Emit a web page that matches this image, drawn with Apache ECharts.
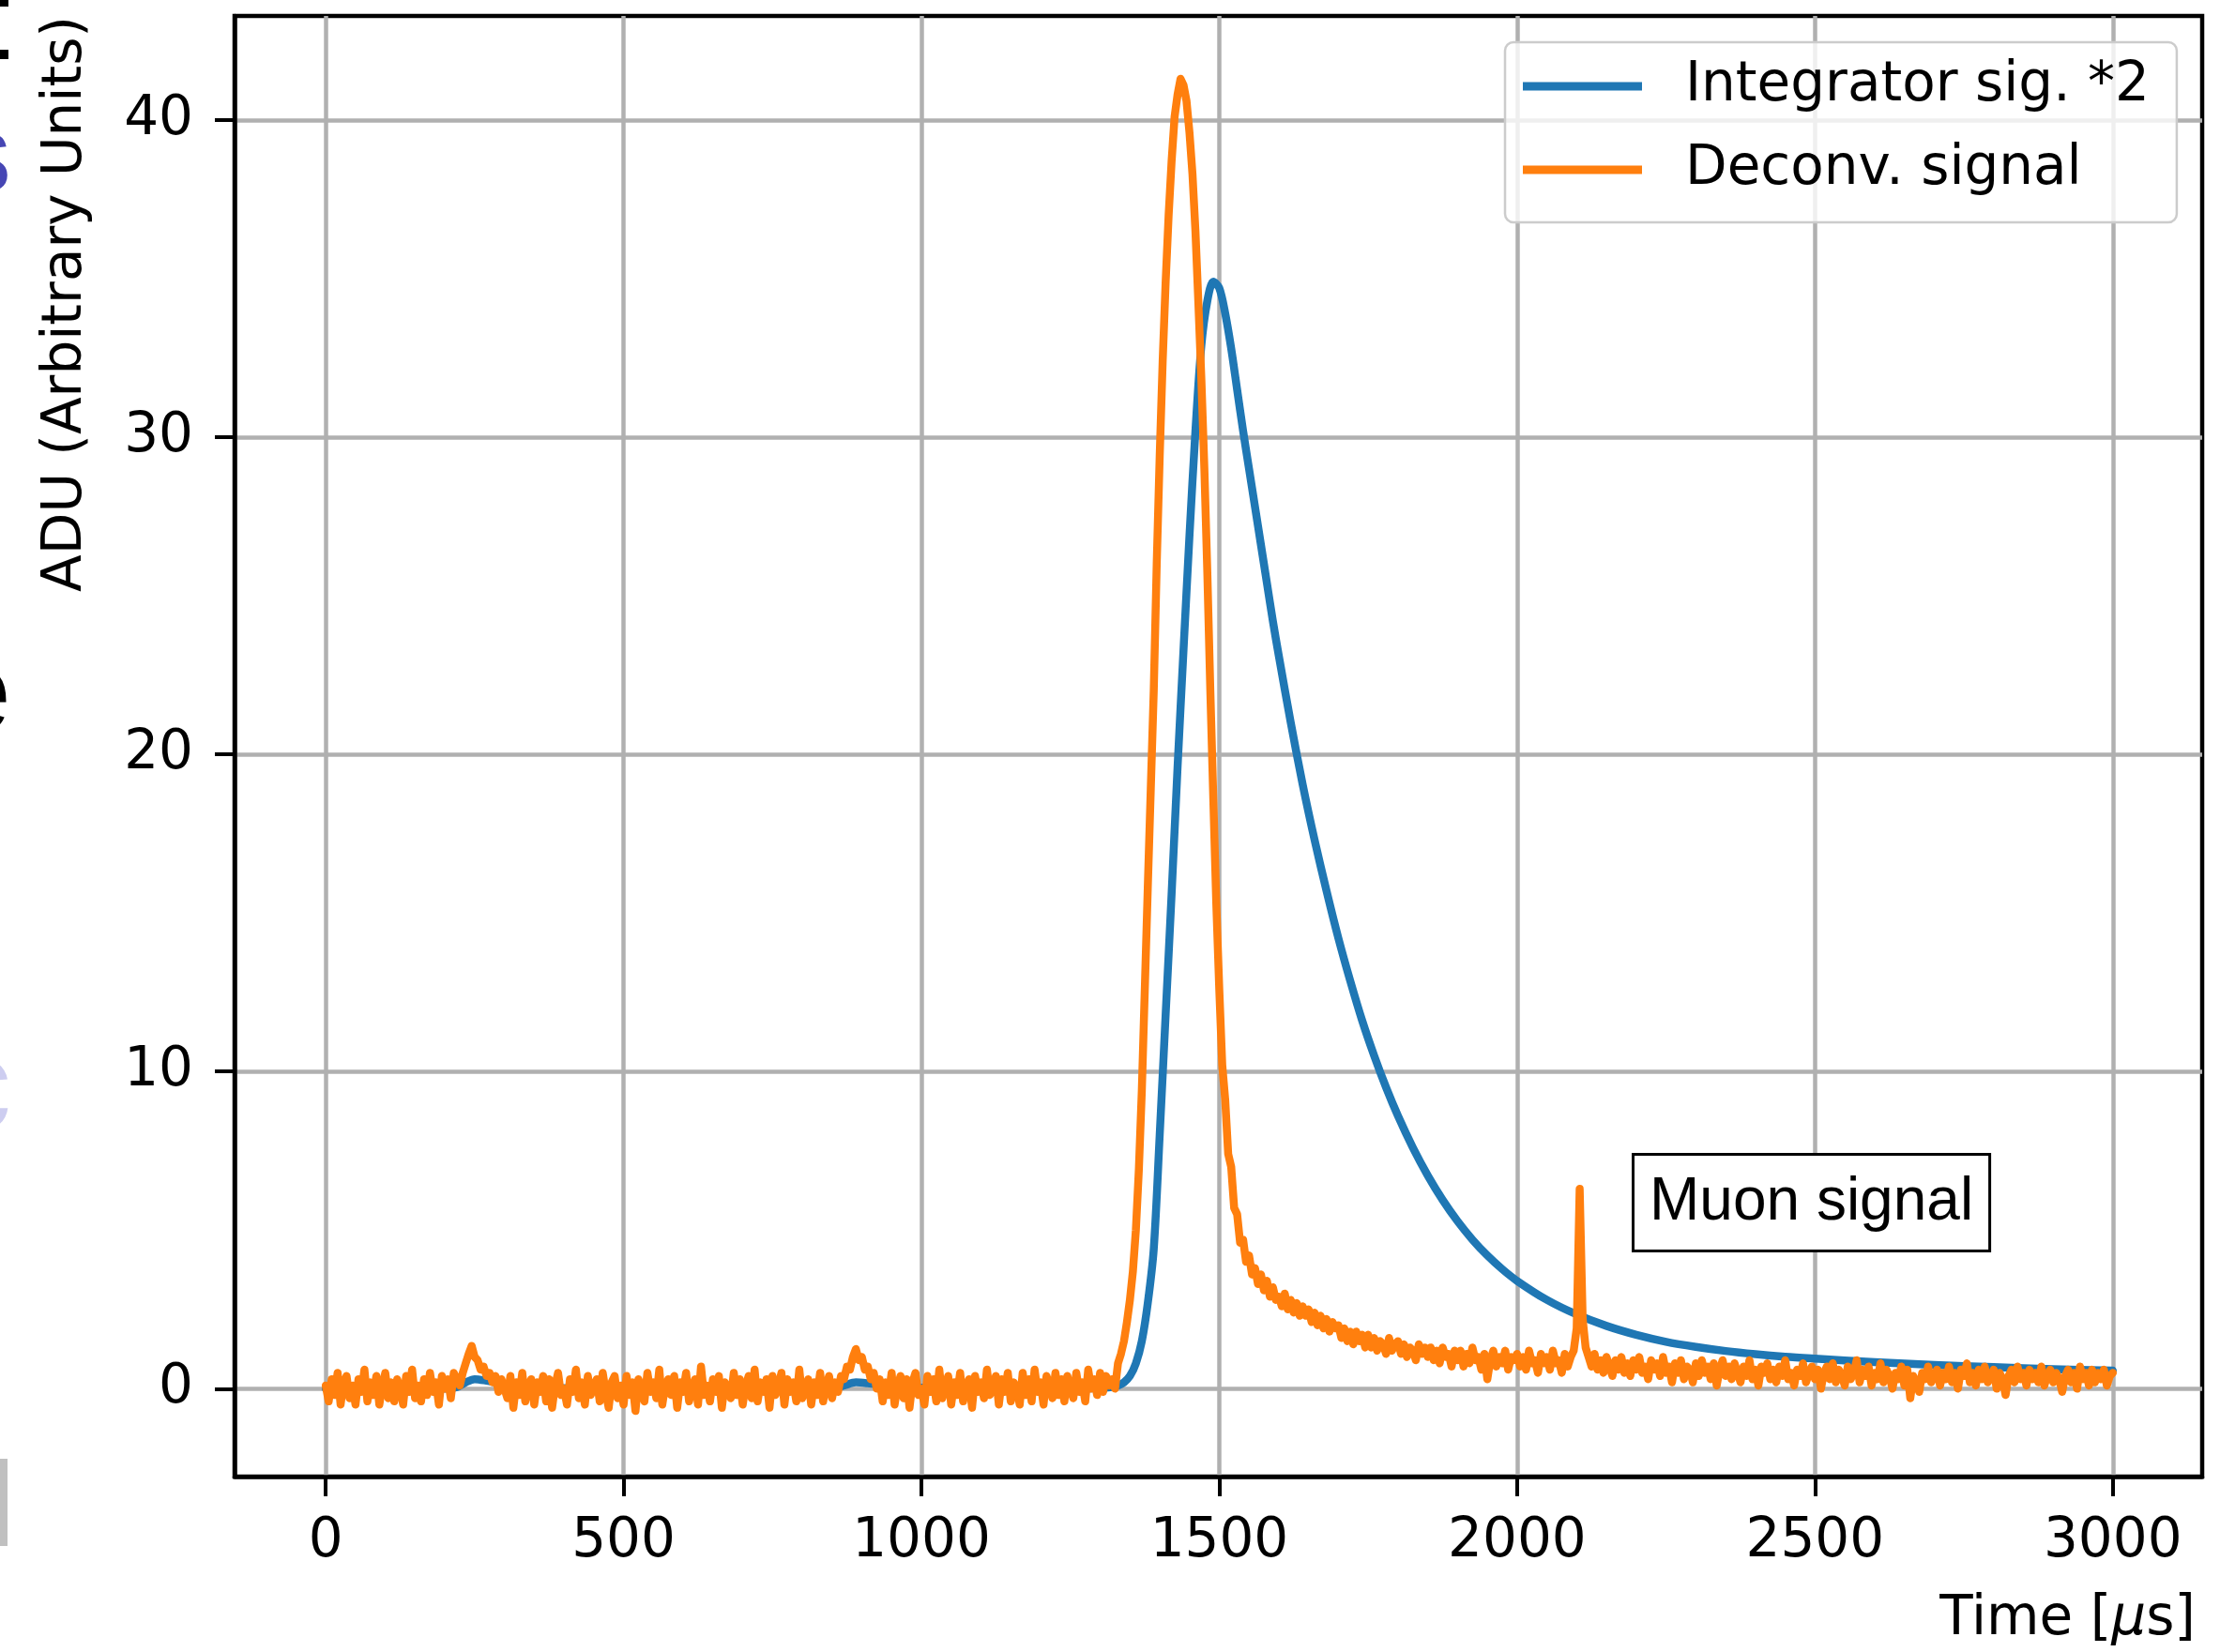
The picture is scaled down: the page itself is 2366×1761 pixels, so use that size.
<!DOCTYPE html>
<html>
<head>
<meta charset="utf-8">
<script src="https://cdn.jsdelivr.net/npm/echarts@6/dist/echarts.min.js"></script>
<style>
html,body{margin:0;padding:0;background:#ffffff;}
#chart{width:2366px;height:1761px;}
</style>
</head>
<body>
<div id="chart"></div>
<script>
// ---------- DATA ----------
const xTicks = [0, 500, 1000, 1500, 2000, 2500, 3000];
const yTicks = [0, 10, 20, 30, 40];
const seriesNames = ['Integrator sig. *2', 'Deconv. signal'];

// Integrator signal (*2), time in microseconds
const blueT = [0,100,200,220,235,250,270,300,350,400,500,700,850,870,890,910,950,1000,1100,1200,1300,1320,1330,1340,
  1350,1360,1370,1380,1390,1400,1410,1420,1430,1440,1450,1460,1470,1480,1490,1500,1510,1520,1530,1540,1550,1560,1570,1580,1590,1600,
  1620,1640,1660,1680,1700,1720,1740,1760,1780,1800,1825,1850,1875,1900,1925,1950,1975,2000,2050,2100,2150,2200,2250,2300,2350,2400,2450,2500,
  2600,2700,2800,2900,3000];
const blueV = [0,0,0,0.05,0.2,0.3,0.25,0.15,0.06,0.02,0,0,0,0.1,0.2,0.17,0.08,0.03,0.01,0.01,0.02,0.05,0.1,0.2,
  0.4,0.8,1.5,2.7,4.4,8.0,11.8,15.6,19.6,23.3,26.9,30.2,32.9,34.3,34.9,34.7,33.9,32.8,31.5,30.2,29.0,27.8,26.6,25.4,24.2,23.1,
  21.0,19.05,17.3,15.7,14.2,12.85,11.6,10.5,9.5,8.6,7.6,6.72,5.95,5.28,4.7,4.2,3.77,3.4,2.8,2.34,1.98,1.7,1.48,1.32,1.19,1.09,1.01,0.95,
  0.84,0.75,0.68,0.62,0.57];

// Deconvolved signal, sampled every 5 us, split in segments (start time of each below)
const orangeStep = 5;
const orangeStarts = [0, 220, 305, 855, 935, 1330, 1600, 2100, 2120];
const orangeSeg0 = [0.1,-0.4,0.3,-0.2,0.5,-0.5,0.2,0.4,-0.3,0.1,-0.5,0.3,-0.1,0.6,-0.4,0.2,-0.2,0.4,-0.5,0.1,0.5,-0.3,
  0.2,-0.4,0.3,0.0,-0.5,0.4,-0.1,0.6,-0.3,0.1,-0.4,0.3,-0.2,0.5,-0.1,0.2,-0.5,0.4,0.0,0.3,-0.3,0.5];
const orangeSeg1 = [0.3,0.1,0.5,0.8,1.1,1.35,1.0,0.9,0.6,0.7,0.4,0.5,0.2,0.4,-0.1,0.3,0.0];
const orangeSeg2 = [-0.3,0.4,-0.6,0.2,-0.2,0.5,-0.4,0.1,0.3,-0.5,
  0.2,-0.1,0.4,-0.4,0.3,-0.6,0.1,0.5,-0.2,0.0,
  -0.5,0.3,-0.1,0.6,-0.3,0.2,-0.5,0.4,-0.2,0.1,
  0.3,-0.4,0.5,-0.1,-0.6,0.2,0.4,-0.3,0.1,-0.5,
  0.4,-0.2,0.2,-0.7,0.3,0.0,-0.4,0.5,-0.1,0.2,
  -0.3,0.6,-0.5,0.1,0.3,-0.2,0.4,-0.6,0.2,-0.1,
  0.5,-0.4,0.0,0.3,-0.5,0.7,-0.2,0.1,-0.4,0.3,
  -0.1,0.4,-0.6,0.2,0.0,-0.3,0.5,-0.2,0.3,-0.5,
  0.1,0.4,-0.3,0.6,-0.4,0.2,-0.1,0.3,-0.6,0.4,
  -0.2,0.1,0.5,-0.5,0.3,-0.1,0.2,-0.4,0.6,-0.3,
  0.0,0.3,-0.5,0.2,-0.2,0.5,-0.4,0.1,0.4,-0.3];
const orangeSeg3 = [0.2,-0.1,0.4,0.3,0.7,0.6,1.0,1.25,0.9,1.0,0.6,0.7,0.3,0.5,0.0,0.3];
const orangeSeg4 = [-0.4,0.2,-0.2,0.5,-0.5,0.1,0.4,-0.3,0.3,-0.6,
  0.2,0.5,-0.2,0.0,-0.5,0.4,-0.1,0.3,-0.4,0.6,
  -0.3,0.1,0.4,-0.5,0.2,-0.2,0.5,-0.4,0.1,0.3,
  -0.6,0.4,-0.1,0.2,-0.3,0.6,-0.2,0.1,0.4,-0.5,
  0.3,-0.1,0.5,-0.4,0.2,0.0,-0.5,0.5,-0.2,0.3,
  -0.4,0.6,-0.1,0.2,-0.5,0.4,0.1,-0.3,0.5,-0.2,
  0.3,-0.4,0.4,0.0,-0.3,0.5,-0.1,0.2,-0.4,0.6,
  0.0,0.3,-0.2,0.5,-0.1,0.4,0.1,0.3,0.0];
const orangeSeg5 = [0.8,1.1,1.5,2.1,2.8,3.7,5.0,6.9,9.4,12.6,
  15.8,18.9,22.0,26.0,29.4,32.4,34.9,37.0,38.7,40.1,
  40.8,41.3,41.1,40.6,39.6,38.3,36.5,34.2,31.8,29.0,
  25.7,22.0,18.6,15.3,12.6,10.2,9.1,7.4,7.0,5.7,
  5.5,4.6,4.7,4.0,4.2,3.6,3.8,3.3,3.6,3.1,
  3.4,2.9,3.2,2.8];
const orangeSeg6 = [2.9,2.6,3.0,2.5,2.8,2.4,2.7,2.3,2.6,2.3,
  2.5,2.1,2.4,2.0,2.3,1.9,2.2,1.8,2.1,1.9,
  2.0,1.6,1.9,1.5,1.8,1.4,1.8,1.5,1.7,1.3,
  1.7,1.3,1.6,1.2,1.5,1.4,1.1,1.6,1.2,1.4,
  1.5,1.1,1.4,1.0,1.3,1.2,0.9,1.4,1.1,1.3,
  1.0,1.3,0.9,1.2,0.8,1.3,1.0,1.1,0.7,1.2,
  0.9,1.2,0.7,1.1,0.8,1.3,0.9,1.0,0.6,1.1,
  0.3,0.9,1.2,0.7,1.0,0.8,1.2,0.6,1.0,0.9,
  1.1,0.7,1.0,0.6,1.2,0.8,0.9,0.5,1.1,0.8,
  1.0,0.6,1.2,0.8,0.9,0.5,1.1,0.7,1.0,1.2];
const orangeSeg7 = [1.9,6.3,2.2,1.3];
const orangeSeg8 = [1.0,0.7,1.1,0.6,0.9,0.5,1.0,0.7,0.4,0.9,
  0.6,1.0,0.5,0.8,0.4,0.9,0.6,1.0,0.5,0.7,
  0.3,0.9,0.6,0.8,0.4,1.0,0.5,0.7,0.2,0.8,
  0.5,0.9,0.3,0.7,0.6,0.2,0.8,0.4,0.9,0.5,
  0.7,0.3,0.8,0.1,0.6,0.9,0.4,0.7,0.3,0.8,
  0.5,0.2,0.7,0.4,0.9,0.3,0.6,0.1,0.7,0.5,
  0.8,0.3,0.6,0.2,0.7,0.4,0.9,0.3,0.5,0.1,
  0.6,0.4,0.8,0.2,0.5,0.7,0.3,0.6,0.0,0.5,
  0.7,0.3,0.8,0.2,0.6,0.4,0.1,0.7,0.3,0.5,
  0.9,0.2,0.6,0.4,0.7,0.1,0.5,0.3,0.8,0.2,
  0.6,0.4,0.0,0.5,0.3,0.7,0.1,0.6,-0.3,0.4,
  0.2,-0.1,0.5,0.3,0.7,0.2,0.4,0.6,0.1,0.5,
  0.3,0.7,0.2,0.5,0.0,0.6,0.4,0.8,0.2,0.5,
  0.1,0.6,0.3,0.7,0.2,0.4,0.6,0.0,0.5,0.3,
  -0.2,0.4,0.6,0.2,0.7,0.3,0.5,0.1,0.6,0.3,
  0.5,0.2,0.7,0.1,0.4,0.6,0.2,0.5,0.3,-0.1,
  0.4,0.6,0.2,0.5,0.0,0.7,0.3,0.5,0.1,0.6,
  0.2,0.5,0.3,0.6,0.1,0.4,0.5];
const orangeSegs = [orangeSeg0, orangeSeg1, orangeSeg2, orangeSeg3, orangeSeg4, orangeSeg5, orangeSeg6, orangeSeg7, orangeSeg8];

// ---------- BUILD ----------
const blueData = blueT.map((t, i) => [t, blueV[i]]);
const orangeData = [];
orangeSegs.forEach((seg, k) => {
  seg.forEach((v, i) => orangeData.push([orangeStarts[k] + i * orangeStep, v]));
});

const FONT = 'DejaVu Sans';
const chart = echarts.init(document.getElementById('chart'), null, {renderer: 'canvas'});
chart.setOption({
  animation: false,
  backgroundColor: '#ffffff',
  textStyle: {fontFamily: FONT},
  grid: {
    left: 250, right: 19, top: 17, bottom: 187,
    show: true, borderColor: '#000000', borderWidth: 4.5, backgroundColor: 'transparent'
  },
  xAxis: {
    type: 'value', min: -153, max: 3150,
    axisLine: {show: true, onZero: false, lineStyle: {color: '#000', width: 4.5}},
    axisTick: {show: true, customValues: xTicks, length: 21, lineStyle: {color: '#000', width: 4}},
    axisLabel: {customValues: xTicks, formatter: v => String(v), fontFamily: FONT, fontSize: 58, color: '#000', margin: 41},
    splitLine: {show: true, lineStyle: {color: '#b0b0b0', width: 4.5}}
  },
  yAxis: {
    type: 'value', min: -2.77, max: 43.28,
    axisLine: {show: true, onZero: false, lineStyle: {color: '#000', width: 4.5}},
    axisTick: {show: true, customValues: yTicks, length: 21, lineStyle: {color: '#000', width: 4}},
    axisLabel: {customValues: yTicks, formatter: v => String(v), fontFamily: FONT, fontSize: 58, color: '#000', margin: 44},
    splitLine: {show: true, lineStyle: {color: '#b0b0b0', width: 4.5}}
  },
  legend: {
    orient: 'vertical', left: 1604, top: 45,
    padding: [17, 29, 26, 19],
    itemWidth: 127, itemHeight: 9, itemGap: 29, icon: 'rect',
    backgroundColor: 'rgba(255,255,255,0.8)', borderColor: '#cccccc', borderWidth: 2.5, borderRadius: 9,
    textStyle: {fontFamily: FONT, fontSize: 58, lineHeight: 60, color: '#000', padding: [0, 0, 0, 41]},
    data: seriesNames
  },
  series: [
    {
      name: seriesNames[0], type: 'line', data: blueData, showSymbol: false, symbol: 'none',
      smooth: 0.3, color: '#1f77b4',
      lineStyle: {color: '#1f77b4', width: 8.5, join: 'round', cap: 'round'}
    },
    {
      name: seriesNames[1], type: 'line', data: orangeData, showSymbol: false, symbol: 'none',
      color: '#ff7f0e',
      lineStyle: {color: '#ff7f0e', width: 8.5, join: 'round', cap: 'round'}
    }
  ],
  graphic: [
    {
      type: 'text', x: 71, y: 17, rotation: Math.PI / 2, z: 10,
      style: {text: 'ADU (Arbitrary Units)', fontFamily: FONT, fontSize: 58, fill: '#000',
        align: 'right', textAlign: 'right', verticalAlign: 'middle', textVerticalAlign: 'middle'}
    },
    {
      type: 'text', x: 2340, y: 1727, z: 10,
      style: {text: 'Time [{i|μ}s]', fontFamily: FONT, fontSize: 58, fill: '#000',
        align: 'right', textAlign: 'right', verticalAlign: 'middle', textVerticalAlign: 'middle',
        rich: {i: {fontFamily: FONT, fontSize: 58, fontStyle: 'italic', fill: '#000'}}}
    },
    {
      type: 'text', x: 1742, y: 1232, z: 10,
      style: {text: 'Muon signal', fontFamily: 'Liberation Sans', fontSize: 64, lineHeight: 64, fill: '#000',
        backgroundColor: '#ffffff', borderColor: '#000000', borderWidth: 3, padding: [18, 16, 18, 16],
        align: 'left', textAlign: 'left', verticalAlign: 'top', textVerticalAlign: 'top'}
    },
    // fragments of neighbouring slide content cut by the left edge
    {type: 'rect', shape: {x: 0, y: 0, width: 9, height: 7}, style: {fill: '#000'}, z: 10},
    {type: 'rect', shape: {x: 0, y: 53, width: 9, height: 10}, style: {fill: '#000'}, z: 10},
    {type: 'text', x: 12, y: 172, z: 10,
      style: {text: 's', fontFamily: 'Liberation Sans', fontSize: 117, fill: '#4646b4',
        align: 'right', textAlign: 'right', verticalAlign: 'middle', textVerticalAlign: 'middle'}},
    {type: 'text', x: 12, y: 745, z: 10,
      style: {text: 'e', fontFamily: 'Liberation Sans', fontSize: 125, fill: '#000',
        align: 'right', textAlign: 'right', verticalAlign: 'middle', textVerticalAlign: 'middle'}},
    {type: 'text', x: 12, y: 1165, z: 10,
      style: {text: 'c', fontFamily: 'Liberation Sans', fontSize: 140, fill: '#cdcdf0',
        align: 'right', textAlign: 'right', verticalAlign: 'middle', textVerticalAlign: 'middle'}},
    {type: 'rect', shape: {x: 0, y: 1555, width: 8, height: 93}, style: {fill: '#c0c0c0'}, z: 10}
  ]
});
</script>
</body>
</html>
